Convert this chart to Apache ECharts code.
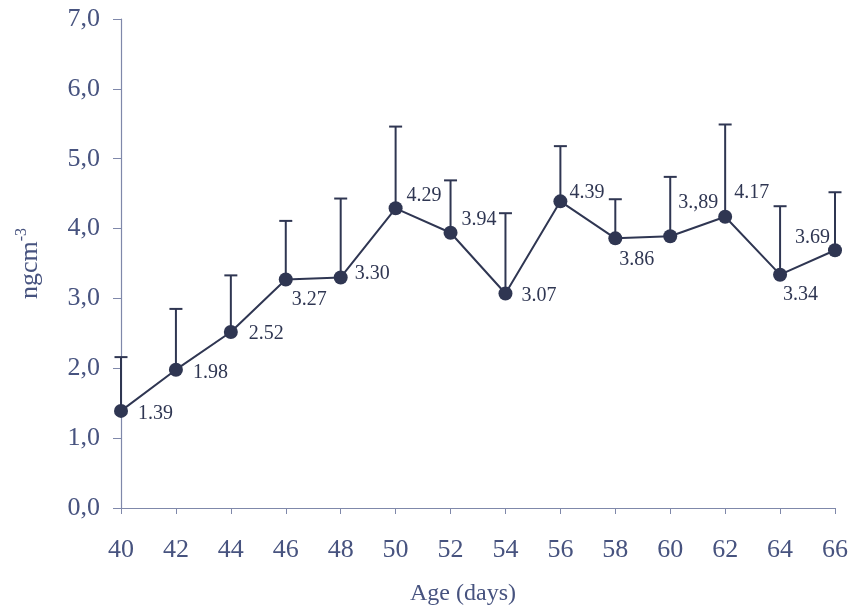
<!DOCTYPE html>
<html><head><meta charset="utf-8">
<script src="https://cdn.jsdelivr.net/npm/echarts@6/dist/echarts.min.js"></script>
<style>html,body{margin:0;padding:0;background:#fff}#c{width:850px;height:605px}</style>
</head><body><div id="c"></div>
<script>
const ages = [40,42,44,46,48,50,52,54,56,58,60,62,64,66];
const means = [1.39,1.98,2.52,3.27,3.30,4.29,3.94,3.07,4.39,3.86,3.89,4.17,3.34,3.69];
const errTops = [2.16,2.85,3.33,4.11,4.43,5.46,4.69,4.22,5.18,4.42,4.74,5.49,4.32,4.52];
const pointLabels = ['1.39','1.98','2.52','3.27','3.30','4.29','3.94','3.07','4.39','3.86','3.,89','4.17','3.34','3.69'];
const yTickLabels = ['0,0','1,0','2,0','3,0','4,0','5,0','6,0','7,0'];
// label placement (style, not data)
const labelOffsets = [[5,3],[5,3],[6,2],[-6,20],[2,-4],[-1,-13],[-1,-13],[4,2],[-3,-9],[-8,21],[-4,-34],[-3,-24],[-9,20],[-52,-12]];

const textColor = '#47537f';
const markColor = '#2f3652';
const axisColor = '#7f88aa';
const font = 'Liberation Serif';

const chart = echarts.init(document.getElementById('c'));
chart.setOption({
  animation:false,
  grid:{left:121,right:15,top:19,bottom:97,containLabel:false,outerBoundsMode:'none'},
  xAxis:{type:'value',min:40,max:66,interval:2,
    name:'Age (days)',nameLocation:'middle',nameGap:74,
    nameTextStyle:{fontFamily:font,fontSize:24,color:textColor,padding:[0,30,0,0]},
    axisLine:{show:true,lineStyle:{color:axisColor,width:1.2}},
    axisTick:{show:true,length:6,lineStyle:{color:axisColor}},
    axisLabel:{fontFamily:font,fontSize:26,color:textColor,margin:29},
    splitLine:{show:false}},
  yAxis:{type:'value',min:0,max:7,interval:1,
    name:'{a|ngcm}{s|-3}',nameLocation:'middle',nameGap:75,nameRotate:90,
    nameTextStyle:{rich:{a:{fontFamily:font,fontSize:26,color:textColor},s:{fontFamily:font,fontSize:16,color:textColor,verticalAlign:'top',padding:[0,0,16,0]}}},
    axisLine:{show:true,lineStyle:{color:axisColor,width:1.2}},
    axisTick:{show:true,length:8,inside:false,lineStyle:{color:axisColor}},
    axisLabel:{fontFamily:font,fontSize:26,color:textColor,margin:21,formatter:(v)=>yTickLabels[Math.round(v)]},
    splitLine:{show:false}},
  series:[
    {type:'custom',data:ages.map((a,i)=>[a,means[i],errTops[i]]),z:1,
      renderItem:(params,api)=>{
        const p0=api.coord([api.value(0),api.value(1)]);
        const p1=api.coord([api.value(0),api.value(2)]);
        const h=6.5;
        return {type:'group',children:[
          {type:'line',shape:{x1:p0[0],y1:p0[1],x2:p1[0],y2:p1[1]},style:{stroke:markColor,lineWidth:2}},
          {type:'line',shape:{x1:p1[0]-h,y1:p1[1],x2:p1[0]+h,y2:p1[1]},style:{stroke:markColor,lineWidth:2}}
        ]};
      }},
    {type:'line',z:3,data:ages.map((a,i)=>({value:[a,means[i]],label:{show:true,offset:labelOffsets[i]}})),
      symbol:'circle',symbolSize:14,
      lineStyle:{color:markColor,width:2},itemStyle:{color:markColor},
      label:{show:true,position:'right',fontFamily:font,fontSize:20,color:markColor,
        formatter:(p)=>pointLabels[p.dataIndex]}}
  ]
});
</script></body></html>
